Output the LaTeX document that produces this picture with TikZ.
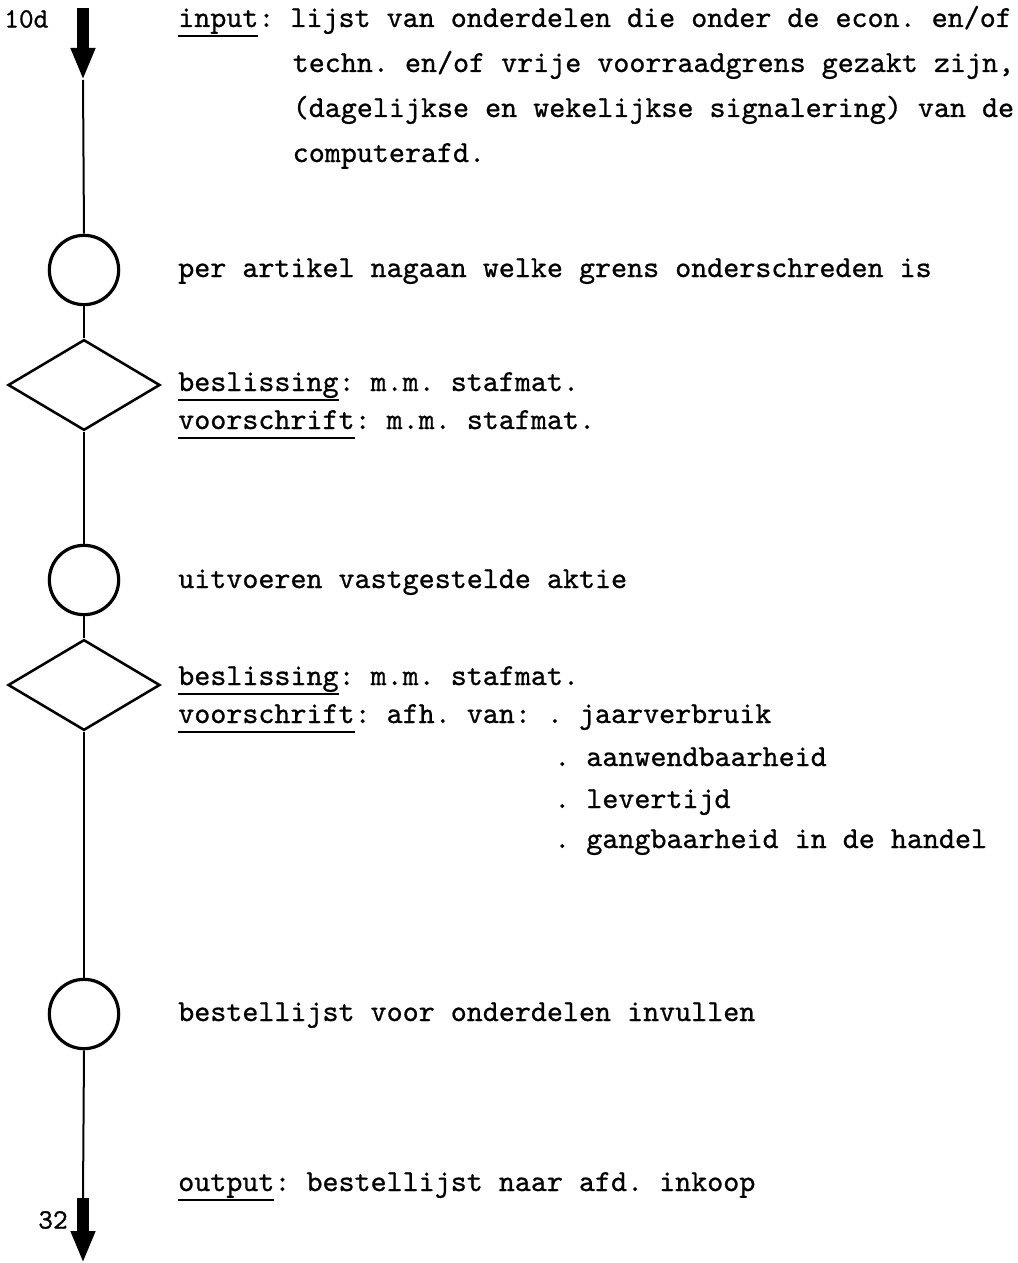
\documentclass[tikz,border=0pt]{standalone}
\usepackage{fontspec}
\setmonofont{lmmono10-regular.otf}[FakeBold=0.8]
\usetikzlibrary{shapes.geometric,arrows.meta}
% underlined keyword, rule placed below the descenders
\newcommand\ulw[1]{\setbox0\hbox{#1}\rlap{\rule[-7.5pt]{\wd0}{1.6pt}}\box0}
\tikzset{
  txt/.style={anchor=base west, inner sep=0pt, font=\fontsize{22.9}{27}\ttfamily\frenchspacing},
  act/.style={circle, draw, line width=2.4pt, minimum size=52pt, inner sep=0pt},
  dec/.style={diamond, draw, line width=1.9pt, minimum width=114pt, minimum height=68pt, inner sep=0pt},
  flow/.style={line width=1.5pt},
  bigarrow/.style={line width=8.5pt, -{Triangle[width=17pt,length=24pt]}},
  lbl/.style={inner sep=0pt, font=\fontsize{21}{24}\ttfamily}
}
\begin{document}
\begin{tikzpicture}[x=0.75pt,y=-0.75pt]
\useasboundingbox (0,0) rectangle (1017,1263);

% flow chart symbols on the main line
\coordinate (in0) at (83,8);
\coordinate (in1) at (83,80);
\node[act] (c1) at (84,270) {};
\node[dec] (d1) at (84,385) {};
\node[act] (c2) at (84,580) {};
\node[dec] (d2) at (84,685) {};
\node[act] (c3) at (84,1014) {};
\coordinate (out0) at (83,1198);
\coordinate (out1) at (83,1263);

% connectors
\draw[bigarrow] (in0) -- (in1);
\draw[flow] (in1) -- (c1.north);
\draw[flow] (c1.south) -- (d1.north);
\draw[flow] (d1.south) -- (c2.north);
\draw[flow] (c2.south) -- (d2.north);
\draw[flow] (d2.south) -- (c3.north);
\draw[flow] (c3.south) -- (out0);
\draw[bigarrow] (out0) -- (out1);

% source and destination numbers
\node[lbl, anchor=west] (nin) at (4,19) {10d};
\node[lbl, anchor=west] (nout) at (38,1220) {32};

% descriptions
\node[txt] (t1) at (178,27) {\ulw{input}: lijst van onderdelen die onder de econ. en/of};
\node[txt] (t2) at (292.5,72) {techn. en/of vrije voorraadgrens gezakt zijn,};
\node[txt] (t3) at (292.5,117) {(dagelijkse en wekelijkse signalering) van de};
\node[txt] (t4) at (292.5,162) {computerafd.};

\node[txt] (t5) at (178,277) {per artikel nagaan welke grens onderschreden is};

\node[txt] (t6) at (178,391) {\ulw{beslissing}: m.m. stafmat.};
\node[txt] (t7) at (178,429) {\ulw{voorschrift}: m.m. stafmat.};

\node[txt] (t8) at (178,588) {uitvoeren vastgestelde aktie};

\node[txt] (t9) at (178,685) {\ulw{beslissing}: m.m. stafmat.};
\node[txt] (t10) at (178,723) {\ulw{voorschrift}: afh. van: . jaarverbruik};
\node[txt] (t11) at (554,766) {. aanwendbaarheid};
\node[txt] (t12) at (554,808) {. levertijd};
\node[txt] (t13) at (554,848) {. gangbaarheid in de handel};

\node[txt] (t14) at (178,1021) {bestellijst voor onderdelen invullen};

\node[txt] (t15) at (178,1191) {\ulw{output}: bestellijst naar afd. inkoop};
\end{tikzpicture}
\end{document}
